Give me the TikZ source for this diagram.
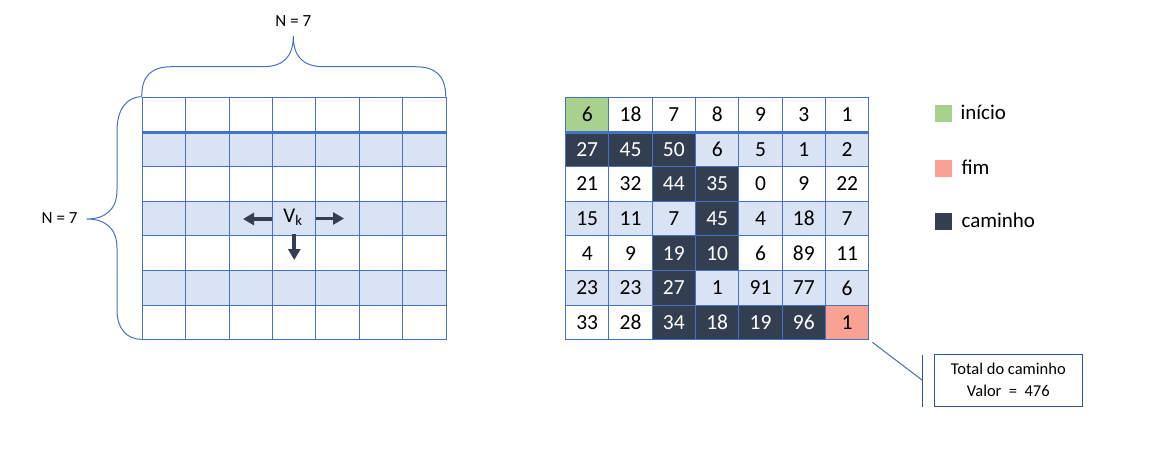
\documentclass[tikz,border=0pt]{standalone}
\usepackage{fontspec}
\setmainfont{Carlito}
\usetikzlibrary{arrows.meta}
\definecolor{gridblue}{HTML}{4472C4}
\definecolor{lightblue}{HTML}{DAE3F3}
\definecolor{dark}{HTML}{333F50}
\definecolor{startgreen}{HTML}{A9D18E}
\definecolor{salmon}{HTML}{F9A193}
\definecolor{boxblue}{HTML}{2F5597}
\definecolor{callline}{HTML}{4A6EA9}
\begin{document}
\begin{tikzpicture}[x=1pt,y=-1pt,
  cell/.style={draw=gridblue, line width=1pt, minimum width=43.4pt, minimum height=34.66pt, inner sep=0pt, anchor=north west, font=\fontsize{21.5}{21.5}\selectfont},
  brace/.style={draw=gridblue, line width=1pt},
  arr/.style={draw=dark, line width=3.8pt, -{Triangle[length=11pt,width=12pt]}},
  legsq/.style={minimum size=17pt, inner sep=0pt},
  legtxt/.style={anchor=west, font=\fontsize{21}{21}\selectfont},
  lbl/.style={font=\fontsize{17}{17}\selectfont}
]
\useasboundingbox (0,0) rectangle (1174,455);

% left grid
\foreach \r in {0,...,6} {
  \foreach \c in {0,...,6} {
    \pgfmathtruncatemacro\odd{mod(\r,2)}
    \ifnum\odd=1 \def\fc{lightblue}\else\def\fc{white}\fi
    \node[cell, fill=\fc] (L\r-\c) at (141.7+43.43*\c, 96.7+34.66*\r) {};
  }
}
\draw[gridblue, line width=2.5pt] (L0-0.south west) -- (L0-6.south east);

% right grid
\foreach \r/\vals in {
  0/{6/g,18/n,7/n,8/n,9/n,3/n,1/n},
  1/{27/p,45/p,50/p,6/n,5/n,1/n,2/n},
  2/{21/n,32/n,44/p,35/p,0/n,9/n,22/n},
  3/{15/n,11/n,7/n,45/p,4/n,18/n,7/n},
  4/{4/n,9/n,19/p,10/p,6/n,89/n,11/n},
  5/{23/n,23/n,27/p,1/n,91/n,77/n,6/n},
  6/{33/n,28/n,34/p,18/p,19/p,96/p,1/s}} {
  \foreach \v/\t [count=\c from 0] in \vals {
    \pgfmathtruncatemacro\odd{mod(\r,2)}
    \def\fc{white}\def\tc{black}
    \ifnum\odd=1 \def\fc{lightblue}\fi
    \if p\t \def\fc{dark}\def\tc{white}\fi
    \if g\t \def\fc{startgreen}\fi
    \if s\t \def\fc{salmon}\fi
    \node[cell, fill=\fc, text=\tc] (R\r-\c) at (565+43.33*\c, 96.7+34.66*\r) {\v};
  }
}
\draw[gridblue, line width=2.5pt] (R0-0.south west) -- (R0-6.south east);

% top brace
\coordinate (tb1) at (141.7,96.7);
\coordinate (tb2) at (445.7,96.7);
\coordinate (ttip) at (293.3,36);
\draw[brace] (tb1) .. controls (141.7,76) and (151,66.7) .. (172,66.7) -- (263,66.7)
  .. controls (284,66.7) and (293.3,56) .. (ttip)
  .. controls (293.3,56) and (302.6,66.7) .. (323.6,66.7) -- (415,66.7)
  .. controls (436,66.7) and (445.7,76) .. (tb2);
\node[lbl] (ntop) at (293.3,21) {N = 7};

% left brace
\coordinate (lb1) at (141.7,96.7);
\coordinate (lb2) at (141.7,339.3);
\coordinate (ltip) at (86.7,219);
\draw[brace] (lb1) .. controls (126,97) and (117,110) .. (117,131) -- (117,190)
  .. controls (117,209) and (106,219) .. (ltip)
  .. controls (106,219) and (117,229) .. (117,248) -- (117,310)
  .. controls (117,328) and (126,339.3) .. (lb2);
\node[lbl, anchor=east] (nleft) at (81,218) {N = 7};

% Vk and arrows
\node[font=\fontsize{21}{21}\selectfont, inner sep=1pt] (vk) at (293,217.5) {V\textsubscript{k}};
\coordinate (al0) at (271.7,219);
\coordinate (al1) at (243,219);
\coordinate (ar0) at (316,218.5);
\coordinate (ar1) at (344,218.5);
\coordinate (ad0) at (294.3,234);
\coordinate (ad1) at (294.3,260);
\draw[arr] (al0) -- (al1);
\draw[arr] (ar0) -- (ar1);
\draw[arr] (ad0) -- (ad1);

% legend
\node[legsq, fill=startgreen] (sqg) at (943,113) {};
\node[legtxt] (tg) at (957,112) {início};
\node[legsq, fill=salmon] (sqs) at (943,168.3) {};
\node[legtxt] (ts) at (958,167) {fim};
\node[legsq, fill=dark] (sqd) at (943,221.5) {};
\node[legtxt] (td) at (958,220) {caminho};

% callout
\coordinate (cbar) at (922.7,380.5);
\coordinate (cbt) at (922.7,355);
\coordinate (cbb) at (922.7,407);
\draw[callline, line width=1pt] ([shift={(3,2)}]R6-6.south east) -- (cbar);
\draw[boxblue, line width=1.2pt] (cbt) -- (cbb);
\node[draw=boxblue, line width=1pt, minimum width=148pt, minimum height=52pt, align=center, font=\fontsize{16.5}{22}\selectfont] (total) at (1008.3,380.2) {Total do caminho\\Valor \ = \ 476};
\end{tikzpicture}
\end{document}
